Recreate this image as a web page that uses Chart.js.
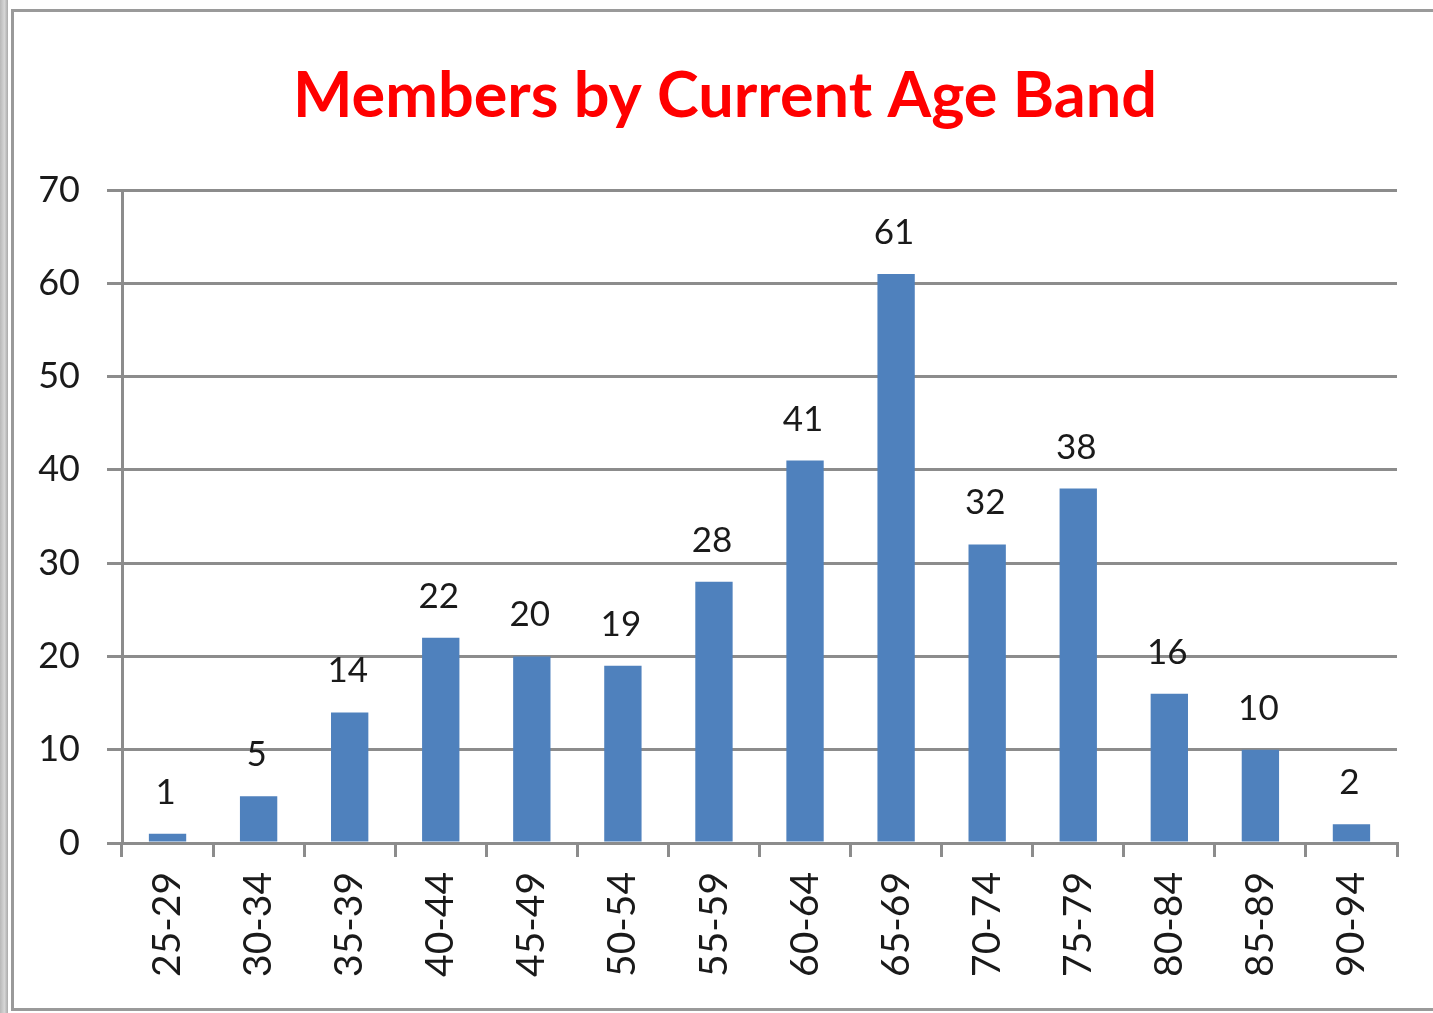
<!DOCTYPE html>
<html>
<head>
<meta charset="utf-8">
<script src="https://cdn.jsdelivr.net/npm/chart.js@4/dist/chart.umd.min.js"></script>
<style>
html,body{margin:0;padding:0;background:#fff;width:1433px;height:1013px;overflow:hidden;}
#wrap{position:relative;width:1433px;height:1013px;}
#strip{position:absolute;left:0;top:0;width:8px;height:1013px;background:linear-gradient(to right,#b8b8b8,#d6d6d6 55%,#a9a9a9);}
#frame{position:absolute;left:11px;top:9px;width:1440px;height:1002px;border:3px solid #9a9a9a;border-right:none;box-sizing:border-box;}
#c{position:absolute;left:0;top:0;}
</style>
</head>
<body>
<div id="wrap">
  <div id="strip"></div>
  <div id="frame"></div>
  <canvas id="c" width="1433" height="1013"></canvas>
</div>
<script>
const chartTitle = 'Members by Current Age Band';
const categories = ['25-29','30-34','35-39','40-44','45-49','50-54','55-59','60-64','65-69','70-74','75-79','80-84','85-89','90-94'];
const members = [1, 5, 14, 22, 20, 19, 28, 41, 61, 32, 38, 16, 10, 2];
const yMin = 0;
const yMax = 70;
const yStep = 10;

const FONT = 'Lato';
const AXIS_COLOR = '#8c8c8c';

// Chart title, centred over the whole chart frame (as in the original)
const frameTitle = {
  id: 'frameTitle',
  afterDraw(chart) {
    const ctx = chart.ctx;
    ctx.save();
    ctx.font = 'bold 63px ' + FONT;
    ctx.fillStyle = '#ff0000';
    ctx.textAlign = 'center';
    ctx.textBaseline = 'alphabetic';
    ctx.fillText(chartTitle, 725, 117);
    ctx.restore();
  }
};

const valueLabels = {
  id: 'valueLabels',
  afterDatasetsDraw(chart) {
    const ctx = chart.ctx;
    const ds = chart.data.datasets[0];
    const meta = chart.getDatasetMeta(0);
    ctx.save();
    ctx.font = '35px ' + FONT;
    ctx.fillStyle = '#1a1a1a';
    ctx.textAlign = 'center';
    ctx.textBaseline = 'alphabetic';
    meta.data.forEach((bar, i) => {
      ctx.fillText(String(ds.data[i]), bar.x - 2, bar.y - 30);
    });
    ctx.restore();
  }
};

new Chart(document.getElementById('c'), {
  type: 'bar',
  data: {
    labels: categories,
    datasets: [{
      data: members,
      backgroundColor: '#4f81bd',
      borderWidth: 0,
      barPercentage: 0.41,
      categoryPercentage: 1.0
    }]
  },
  options: {
    responsive: false,
    animation: false,
    devicePixelRatio: 1,
    layout: { padding: { left: 0, top: 190, right: 36, bottom: 0 } },
    plugins: {
      legend: { display: false },
      tooltip: { enabled: false },
      title: { display: false }
    },
    scales: {
      x: {
        offset: true,
        grid: { offset: true, drawOnChartArea: false, color: AXIS_COLOR, lineWidth: 3, tickLength: 14 },
        border: { display: true, color: AXIS_COLOR, width: 3 },
        ticks: {
          autoSkip: false, minRotation: 90, maxRotation: 90, padding: 15,
          color: '#1a1a1a', font: { family: FONT, size: 39 }
        },
        afterFit(s) { s.height = 170; }
      },
      y: {
        min: yMin, max: yMax,
        ticks: { stepSize: yStep, padding: 27, color: '#1a1a1a', font: { family: FONT, size: 36 } },
        grid: { color: AXIS_COLOR, lineWidth: 3, tickLength: 15 },
        border: { display: true, color: AXIS_COLOR, width: 3 },
        afterFit(s) { s.width = 122; }
      }
    }
  },
  plugins: [valueLabels, frameTitle]
});
</script>
</body>
</html>
